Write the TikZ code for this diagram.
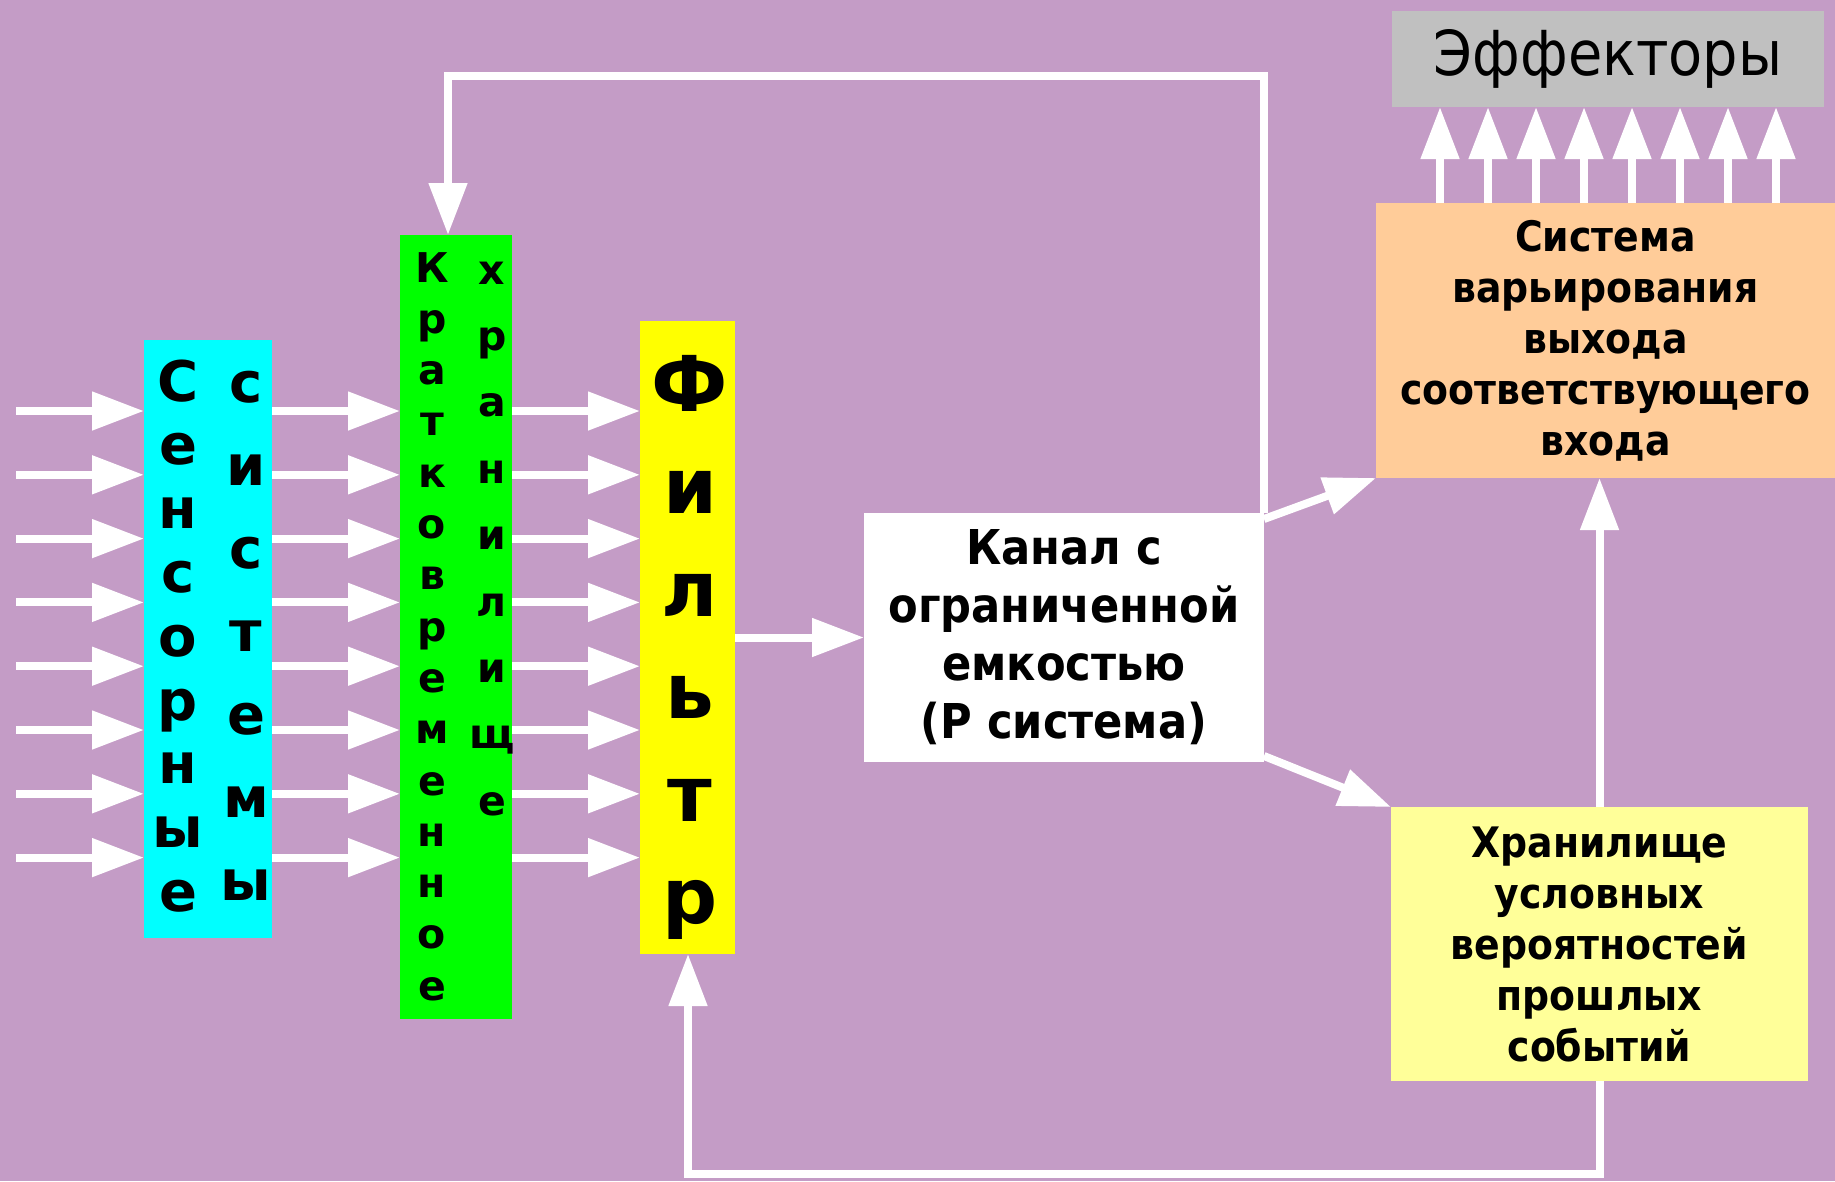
\documentclass[tikz,border=0pt]{standalone}
\usepackage{fontspec}
\setmainfont{DejaVu Sans}
\newfontfamily\condfont{DejaVuSansCondensed.ttf}[BoldFont=DejaVuSansCondensed-Bold.ttf]
\usetikzlibrary{arrows.meta, positioning}

\definecolor{bgpurple}{RGB}{196,156,198}
\definecolor{effgray}{RGB}{192,192,192}
\definecolor{sysorange}{RGB}{255,204,153}
\definecolor{memyellow}{RGB}{255,255,153}
\definecolor{senscyan}{RGB}{0,255,255}
\definecolor{stmgreen}{RGB}{0,255,0}
\definecolor{filtyellow}{RGB}{255,255,0}

\tikzset{
  box/.style={inner sep=0pt, outer sep=0pt},
  boxtext/.style={align=center, font=\condfont\bfseries\fontsize{42}{51}\selectfont},
  arr/.style={draw=white, line width=8pt, -{Triangle[length=52pt, width=37pt]}},
  sletter/.style={anchor=base, inner sep=0pt, font=\bfseries\fontsize{56}{56}\selectfont},
  gletter/.style={anchor=base, inner sep=0pt, font=\bfseries\fontsize{41}{41}\selectfont},
  fletter/.style={anchor=base, inner sep=0pt, font=\bfseries\fontsize{77}{77}\selectfont},
}

\begin{document}
\begin{tikzpicture}[x=1pt, y=-1pt]
    \fill[bgpurple] (0,0) rectangle (1835,1181);
    \useasboundingbox (0,0) rectangle (1835,1181);

    % blocks
    \node (sens) [box, fill=senscyan, minimum width=128pt, minimum height=598pt] at (208,639) {};
    \node (stm) [box, fill=stmgreen, minimum width=112pt, minimum height=784pt] at (456,627) {};
    \node (filt) [box, fill=filtyellow, minimum width=95pt, minimum height=633pt] at (687.5,637.5) {};
    \node (kanal) [box, boxtext, fill=white, minimum width=400pt, minimum height=249pt,
        font=\condfont\bfseries\fontsize{48}{58}\selectfont] at (1064,637.5)
        {Канал с\\ограниченной\\емкостью\\(Р система)};
    \node (sys) [box, boxtext, fill=sysorange, minimum width=459pt, minimum height=275pt] at (1605.5,340.5)
        {Система\\варьирования\\выхода\\соответствующего\\входа};
    \node (store) [box, boxtext, fill=memyellow, minimum width=417pt, minimum height=274pt] at (1599.5,944)
        {Хранилище\\условных\\вероятностей\\прошлых\\событий};
    \node (eff) [box, fill=effgray, minimum width=432pt, minimum height=96pt,
        font=\condfont\fontsize{62}{62}\selectfont] at (1608,59) {Эффекторы};

    % parallel inputs
    \foreach \k in {0,...,7} {
        \coordinate (in\k) at (16, {411+63.8*\k});
        \draw[arr] (in\k) -- (in\k -| sens.west);
        \draw[arr] (in\k -| sens.east) -- (in\k -| stm.west);
        \draw[arr] (in\k -| stm.east) -- (in\k -| filt.west);
    }

    % outputs to effectors
    \foreach \k in {0,...,7} {
        \coordinate (up\k) at ({1440+48*\k}, 0);
        \draw[arr] (up\k |- sys.north) -- (up\k |- eff.south);
    }

    \draw[arr] (filt.east) -- (kanal.west);
    \draw[arr] ([yshift=-6pt]kanal.north east) -- (sys.south west);
    \draw[arr] ([yshift=6pt]kanal.south east) -- (store.north west);
    \draw[arr] (store.north) -- (store.north |- sys.south);

    % feedback loops
    \coordinate (loop) at (448,76);
    \draw[arr] (kanal.north east) |- (loop) -- (loop |- stm.north);
    \coordinate (ret) at (688,1174);
    \draw[arr] (store.south) |- (ret) -- (ret |- filt.south);

    % vertical labels
    \foreach \ch [count=\i] in {С,е,н,с,о,р,н,ы,е}
        \node (sa\i) [sletter] at (178, {401+63.8*(\i-1)}) {\ch};
    \foreach \ch [count=\i] in {с,и,с,т,е,м,ы}
        \node (sb\i) [sletter] at (246, {402.3+82.95*(\i-1)}) {\ch};
    \foreach \ch [count=\i] in {К,р,а,т,к,о,в,р,е,м,е,н,н,о,е}
        \node (ga\i) [gletter] at (432, {282+51.3*(\i-1)}) {\ch};
    \foreach \ch [count=\i] in {х,р,а,н,и,л,и,щ,е}
        \node (gb\i) [gletter] at (492, {284+66.4*(\i-1)}) {\ch};
    \foreach \ch [count=\i] in {Ф,и,л,ь,т,р}
        \node (fl\i) [fletter] at (690, {411+102.5*(\i-1)}) {\ch};
\end{tikzpicture}
\end{document}
